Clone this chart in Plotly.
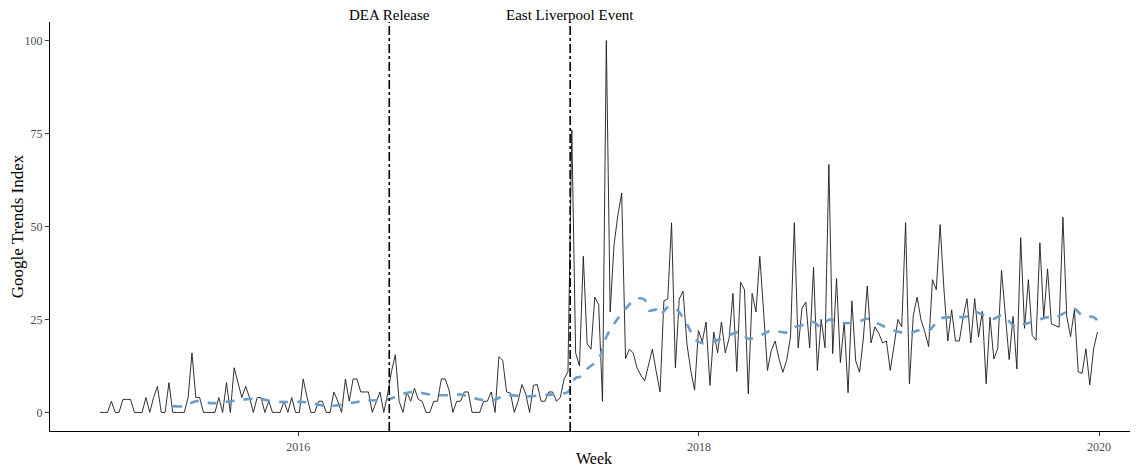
import pandas as pd
import plotly.graph_objects as go

# ---- data ----
start_week = "2015-01-04"
trend_index = [
    0, 0, 0, 3, 0, 0, 3.5, 3.5, 3.5, 0,
    0, 0, 4, 0, 4, 7, 0, 0, 8, 0,
    0, 0, 0, 4, 16, 4, 4, 0, 0, 0,
    0, 4, 0, 8, 0, 12, 8, 4, 7, 4,
    0, 4, 4, 0, 3, 0, 0, 0, 3, 0,
    4, 0, 0, 9, 4, 0, 0, 3, 3, 0,
    0, 5.5, 3, 0, 9, 3, 9, 9, 5.5, 5.5,
    5.5, 0, 3, 5.5, 0, 5, 11, 15.5, 3, 0,
    5.5, 3, 6.5, 3.5, 3, 0, 0, 3, 3, 9,
    9, 6, 0, 3, 3, 5.5, 5.5, 0, 0, 0,
    3, 3, 5.5, 0, 15, 14, 5.5, 5.2, 0, 3,
    7.5, 5, 0, 7.3, 7.5, 3, 3, 5.5, 5.5, 3,
    4, 9, 11, 76, 16, 12.5, 42, 18.5, 17, 31,
    29, 3, 100, 27, 45, 53, 59, 14.5, 17, 16,
    12, 10, 8.5, 13, 17, 11, 5.5, 30, 30.5, 51,
    12, 30.5, 32.6, 18.5, 11.3, 6, 22, 19, 24.3, 7.3,
    21.6, 16, 24.3, 16, 20, 32, 11, 35, 33, 5,
    32, 27, 42, 27, 11.3, 16.7, 19.2, 14.4, 10.8, 14,
    20.3, 51, 17.4, 28, 29.7, 17.4, 39, 11.3, 25, 17.4,
    66.7, 15.8, 36, 13.4, 24.3, 5.3, 30, 13.8, 10.8, 20,
    34, 18.7, 23, 21.3, 18.7, 19.2, 11.3, 18, 25, 23,
    51, 7.7, 26, 31, 25, 21.7, 17.7, 35.7, 33, 50.5,
    33, 19.2, 27.6, 19.2, 19.2, 25.6, 30.6, 18.7, 30.6, 20.3,
    27.2, 7.7, 25.6, 14.4, 17.1, 38.2, 25, 14.2, 25.8, 11.7,
    47, 22.6, 35.7, 20.7, 19.4, 45.6, 25.4, 38.6, 23.8, 23.3,
    22.9, 52.5, 25.8, 20.4, 27.6, 10.9, 10.5, 17.1, 7.4, 17.1,
    21.6,
]

# smoothed trend (dashed blue), read at selected weeks
smooth_week = [19, 22, 25, 28, 30, 34, 37, 41, 45, 49, 53, 56, 59, 62, 67, 70,
               75, 79, 82, 86, 90, 94, 98, 102, 106, 111, 115, 119, 122, 124,
               125, 127, 130, 132, 134, 137, 140, 142, 143, 145, 146, 148, 150,
               153, 155, 157, 160, 163, 167, 169, 173, 175, 179, 181, 184, 186,
               188, 190, 194, 198, 200, 203, 207, 211, 213, 216, 219, 222, 226,
               228, 230, 233, 235, 239, 241, 243, 247, 249, 253, 254, 256, 259, 260]
smooth_val = [1.7, 1.7, 3.0, 2.6, 2.5, 3.0, 3.4, 3.7, 3.0, 2.8, 2.8, 2.3, 1.7, 1.9, 2.8, 3.2,
              3.5, 5.0, 5.5, 4.8, 4.6, 4.8, 3.7, 3.2, 4.6, 4.3, 4.6, 5.0, 5.5, 9.3,
              9.5, 11.7, 14.4, 20.3, 23.8, 27.9, 30.6, 30.3, 27.4, 27.6, 26.1, 28.3, 28.0,
              23.8, 19.8, 18.6, 19.1, 20.3, 21.6, 19.8, 21.1, 22.0, 21.5, 22.9, 23.7, 24.3,
              22.9, 24.9, 24.0, 24.5, 25.2, 23.8, 22.0, 21.3, 22.0, 22.0, 25.2, 25.6, 25.8,
              27.0, 26.3, 25.2, 26.1, 22.9, 23.8, 24.3, 25.6, 25.6, 27.6, 27.9, 26.1, 25.6, 24.7]

events = ["DEA Release", "East Liverpool Event"]
event_dates = ["2016-06-15", "2017-05-11"]

y_ticks = [0, 25, 50, 75, 100]
x_ticks = ["2016-01-01", "2018-01-01", "2020-01-01"]
x_tick_labels = ["2016", "2018", "2020"]
x_range = ["2014-10-05", "2020-03-12"]

# ---- build ----
weeks = pd.date_range(start_week, periods=len(trend_index), freq="7D")
smooth_dates = [weeks[i] for i in smooth_week]

FONT = "Liberation Serif"

fig = go.Figure()
fig.add_trace(go.Scatter(x=weeks, y=trend_index, mode="lines",
                         line=dict(color="#1a1a1a", width=0.9), showlegend=False))
fig.add_trace(go.Scatter(x=smooth_dates, y=smooth_val, mode="lines",
                         line=dict(color="#6b9dc9", width=2.6, dash="dash", shape="spline"),
                         showlegend=False))

for name, d in zip(events, event_dates):
    fig.add_shape(type="line", xref="x", yref="paper", x0=d, x1=d, y0=0, y1=1,
                  line=dict(color="black", width=1.6, dash="dashdot"))
    fig.add_annotation(x=d, xref="x", y=1, yref="paper", yanchor="bottom",
                       text=name, showarrow=False, yshift=-3,
                       font=dict(family=FONT, size=15, color="black"))

fig.update_layout(
    width=1130, height=460,
    margin=dict(l=42, r=0, t=14, b=37, autoexpand=False),
    plot_bgcolor="white", paper_bgcolor="white",
    font=dict(family=FONT),
    xaxis=dict(range=x_range, showgrid=False, zeroline=False,
               showline=True, linecolor="black", linewidth=1.2,
               ticks="outside", ticklen=4, tickcolor="#333333",
               tickvals=x_ticks, ticktext=x_tick_labels,
               tickfont=dict(family=FONT, size=12, color="#4d4d4d"),
               title=dict(text="Week", font=dict(family=FONT, size=16, color="black"),
                          standoff=0)),
    yaxis=dict(range=[-5, 105], showgrid=False, zeroline=False,
               showline=True, linecolor="black", linewidth=1.2,
               ticks="outside", ticklen=4, tickcolor="#333333",
               tickvals=y_ticks,
               tickfont=dict(family=FONT, size=12, color="#4d4d4d"),
               title=dict(text="Google Trends Index",
                          font=dict(family=FONT, size=17, color="black"),
                          standoff=4)),
)

fig.write_html("out.html")
